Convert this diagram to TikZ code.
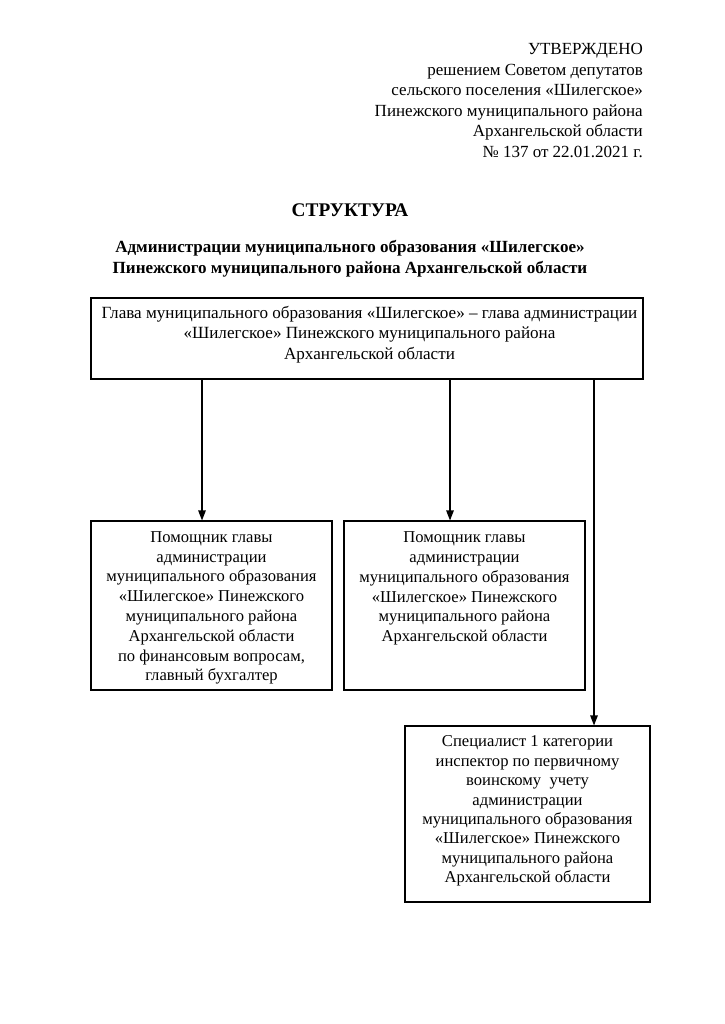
\documentclass[tikz,border=0pt]{standalone}
\usepackage{fontspec}
\setmainfont{Liberation Serif}
\usetikzlibrary{arrows.meta}
\begin{document}
\begin{tikzpicture}[x=1pt,y=-1pt,
  box/.style={draw,line width=1.1pt,inner sep=0pt},
  txt/.style={align=center,inner sep=0pt,font=\fontsize{16.6}{19.8}\selectfont},
  arr/.style={line width=1.1pt,-{Triangle[length=10pt,width=7.5pt]}}]
\useasboundingbox (0,0) rectangle (724,1024);
\fill[white] (0,0) rectangle (724,1024);
% header
\node[anchor=north east,align=right,inner sep=0pt,font=\fontsize{17}{20.5}\selectfont] (hdr) at (643,43.5)
  {УТВЕРЖДЕНО\\решением Советом депутатов\\сельского поселения «Шилегское»\\Пинежского муниципального района\\Архангельской области\\№ 137 от 22.01.2021 г.};
\node[font=\fontsize{19.3}{22}\selectfont\bfseries,inner sep=0pt] (title) at (350,210) {СТРУКТУРА};
\node[align=center,inner sep=0pt,font=\fontsize{17.05}{21}\selectfont\bfseries] (sub) at (350,259)
  {Администрации муниципального образования «Шилегское»\\Пинежского муниципального района Архангельской области};
% boxes
\node[box,minimum width=552,minimum height=81] (head) at (367,338.5) {};
\node[txt,font=\fontsize{17.1}{20.2}\selectfont] (headtxt) at (369.5,334.5) {Глава муниципального образования «Шилегское» – глава администрации\\«Шилегское» Пинежского муниципального района\\Архангельской области};
\node[box,minimum width=241,minimum height=169] (b1) at (211.5,605.5) {};
\node[txt] (b1txt) at (211.5,608) {Помощник главы\\администрации\\муниципального образования\\«Шилегское» Пинежского\\муниципального района\\Архангельской области\\по финансовым вопросам,\\главный бухгалтер};
\node[box,minimum width=241,minimum height=169] (b2) at (464.5,605.5) {};
\node[txt] (b2txt) at (464.5,588.5) {Помощник главы\\администрации\\муниципального образования\\«Шилегское» Пинежского\\муниципального района\\Архангельской области};
\node[box,minimum width=245,minimum height=176] (b3) at (527.5,814) {};
\node[txt,font=\fontsize{16.6}{19.4}\selectfont] (b3txt) at (527.5,811) {Специалист 1 категории\\инспектор по первичному\\воинскому\ \ учету\\администрации\\муниципального образования\\«Шилегское» Пинежского\\муниципального района\\Архангельской области};
% connectors
\coordinate (x1) at (202,0);
\coordinate (x2) at (450,0);
\coordinate (x3) at (594,0);
\draw[arr] (head.south -| x1) -- (b1.north -| x1);
\draw[arr] (head.south -| x2) -- (b2.north -| x2);
\draw[arr] (head.south -| x3) -- (b3.north -| x3);
\end{tikzpicture}
\end{document}
